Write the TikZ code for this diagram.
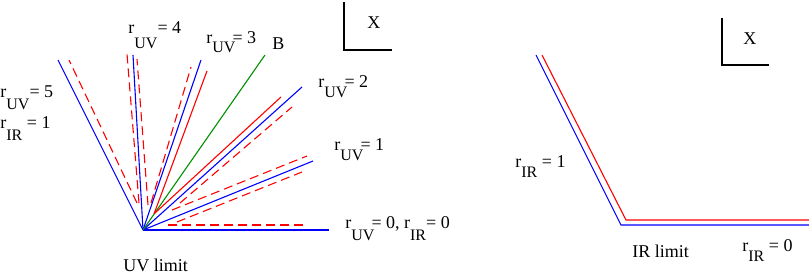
\documentclass[tikz,border=0pt]{standalone}
\usepackage{fontspec}
\setmainfont{Liberation Serif}
\definecolor{figgreen}{RGB}{0,144,0}
\newcommand{\lowsub}[2][5pt]{\raisebox{-#1}{\fontsize{8}{9}\selectfont #2}}

\begin{document}
\begin{tikzpicture}[x=.5pt,y=-.5pt,font=\fontsize{9}{11}\selectfont,
  blueray/.style={draw=blue,line width=.55pt},
  redray/.style={draw=red,line width=.55pt},
  reddash/.style={draw=red,line width=.55pt,dash pattern=on 4.5pt off 2.5pt},
  greenray/.style={draw=figgreen,line width=.55pt},
  axisline/.style={draw=black,line width=.55pt},
  lbl/.style={anchor=base west,inner sep=0pt}]
\useasboundingbox (0,0) rectangle (809,273);
\coordinate (uv) at (143,230);
\draw[blueray] (uv) -- (329,230);
\draw[blueray] (uv) -- (313,161);
\draw[blueray] (uv) -- (302,87);
\draw[blueray] (uv) -- (201,60);
\draw[blueray] (uv) -- (133,55);
\draw[blueray] (uv) -- (58,60);
\draw[greenray] (uv) -- (265,55);
\draw[redray] (154,214) -- (207,71);
\draw[redray] (155,213) -- (281,97);
\draw[reddash] (168,225) -- (307,225);
\draw[reddash] (177,222) -- (302,172);
\draw[reddash] (172,210) -- (307,156);
\draw[reddash] (180,203) -- (292,107);
\draw[reddash] (151,203) -- (191,67);
\draw[reddash] (148,205) -- (137,59);
\draw[reddash] (139,203) -- (127,54);
\draw[reddash] (137,203) -- (69,60);
\node[lbl] (uvfour) at (128,33) {r\lowsub[7.5pt]{UV}= 4};
\node[lbl] (uvthree) at (206,43) {r\lowsub{UV}\kern-1.5pt= 3};
\node[lbl] (bline) at (272,49) {B};
\node[lbl] (uvtwo) at (318,87) {r\lowsub{UV}\kern-1.5pt= 2};
\node[lbl] (uvone) at (334,150) {r\lowsub{UV}\kern-1.5pt= 1};
\node[lbl] (uvzero) at (345,228) {r\lowsub[6pt]{UV}\kern-1.5pt= 0, r\lowsub[6pt]{IR}= 0};
\node[lbl] (uvfive) at (0,97) {r\lowsub[6pt]{UV}= 5};
\node[lbl] (irone) at (0,128) {r\lowsub[6pt]{IR} = 1};
\node[lbl] (uvlimit) at (123,271) {UV limit};
\draw[axisline] (344,2) -- (344,50) -- (392,50);
\node[lbl] (xleft) at (367,28) {X};
\draw[blueray] (536,55) -- (621,225) -- (809,225);
\draw[redray] (542,55) -- (626,220) -- (809,220);
\draw[axisline] (722,18) -- (722,65) -- (769,65);
\node[lbl] (xright) at (743,44) {X};
\node[lbl] (irright) at (515,167) {r\lowsub{IR} = 1};
\node[lbl] (irlimit) at (632,257) {IR limit};
\node[lbl] (irzero) at (742,251) {r\lowsub{IR} = 0};
\end{tikzpicture}
\end{document}
